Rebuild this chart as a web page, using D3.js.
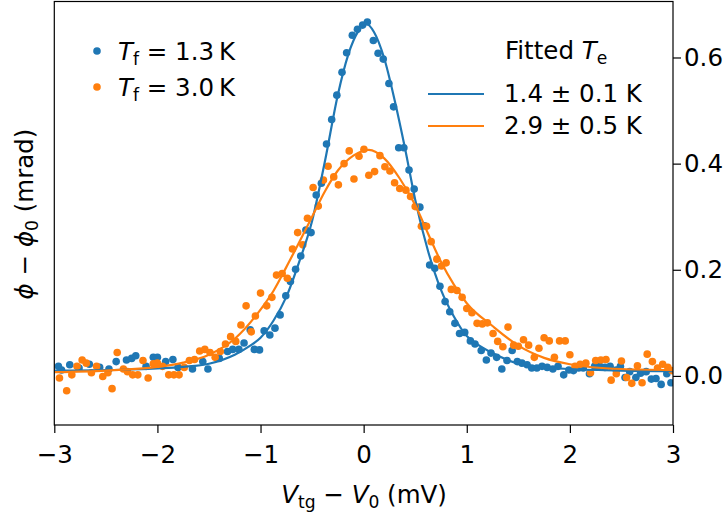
<!DOCTYPE html>
<html><head><meta charset="utf-8">
<script src="https://cdn.jsdelivr.net/npm/d3@7"></script>
<style>
body{margin:0;background:#fff;}
svg{display:block;font-family:"DejaVu Sans",sans-serif;}
</style></head>
<body><svg id="c" width="727" height="514"></svg>
<script>
// ---- data ----
const blueX = [-2.96,-2.93,-2.85,-2.76,-2.66,-2.56,-2.47,-2.40,-2.30,-2.25,-2.21,-2.11,-2.04,-2.00,-1.92,-1.85,-1.80,-1.66,-1.56,-1.51,-1.40,-1.32,-1.27,-1.21,-1.16,-1.10,-1.06,-1.01,-0.965,-0.91,-0.86,-0.81,-0.755,-0.71,-0.66,-0.61,-0.56,-0.51,-0.46,-0.41,-0.36,-0.31,-0.26,-0.21,-0.165,-0.11,-0.06,-0.01,0.036,0.094,0.14,0.19,0.245,0.29,0.34,0.39,0.44,0.49,0.545,0.59,0.64,0.69,0.74,0.79,0.835,0.885,0.93,0.98,1.035,1.08,1.14,1.19,1.235,1.29,1.34,1.39,1.44,1.49,1.535,1.585,1.63,1.68,1.73,1.78,1.835,1.885,1.94,1.99,2.035,2.085,2.13,2.19,2.24,2.29,2.34,2.39,2.45,2.49,2.535,2.58,2.64,2.685,2.74,2.79,2.835,2.885,2.94,2.98];
const blueY = [0.018,0.011,0.021,0.015,0.022,0.016,0.013,0.027,0.030,0.033,0.038,0.018,0.035,0.035,0.027,0.031,0.016,0.013,0.027,0.013,0.033,0.046,0.050,0.050,0.062,0.087,0.050,0.049,0.085,0.077,0.090,0.115,0.151,0.178,0.201,0.226,0.275,0.270,0.341,0.363,0.437,0.483,0.529,0.572,0.609,0.642,0.653,0.661,0.667,0.632,0.608,0.597,0.551,0.507,0.430,0.430,0.388,0.352,0.318,0.283,0.209,0.203,0.169,0.140,0.121,0.099,0.080,0.082,0.066,0.060,0.048,0.030,0.043,0.035,0.013,0.029,0.048,0.027,0.024,0.021,0.015,0.015,0.018,0.016,0.013,0.018,0.002,0.011,0.010,0.015,0.015,0.004,0.018,0.018,0.016,0.018,0.011,0.018,-0.003,0.008,-0.003,0.005,0.008,-0.006,-0.005,-0.016,0.004,-0.013];
const orangeX = [-2.95,-2.88,-2.83,-2.78,-2.73,-2.69,-2.64,-2.59,-2.53,-2.48,-2.44,-2.39,-2.33,-2.29,-2.24,-2.19,-2.14,-2.09,-2.04,-2.00,-1.95,-1.89,-1.84,-1.79,-1.74,-1.69,-1.64,-1.59,-1.54,-1.49,-1.44,-1.39,-1.34,-1.29,-1.24,-1.19,-1.14,-1.09,-1.05,-1.00,-0.94,-0.89,-0.845,-0.79,-0.74,-0.69,-0.64,-0.59,-0.545,-0.49,-0.44,-0.39,-0.345,-0.29,-0.245,-0.19,-0.14,-0.094,-0.045,0.003,0.05,0.106,0.158,0.206,0.255,0.30,0.35,0.41,0.455,0.50,0.56,0.61,0.655,0.71,0.755,0.80,0.85,0.905,0.955,1.00,1.05,1.10,1.15,1.20,1.255,1.30,1.35,1.40,1.455,1.50,1.55,1.60,1.655,1.70,1.75,1.80,1.85,1.90,1.955,2.00,2.05,2.10,2.155,2.20,2.25,2.30,2.35,2.40,2.45,2.50,2.55,2.60,2.655,2.70,2.75,2.80,2.85,2.90,2.95,2.99];
const orangeY = [-0.004,-0.028,0.002,0.018,0.030,0.024,0.006,0.018,-0.001,0.006,-0.024,0.044,0.013,0.008,0.002,0.002,0.029,-0.004,0.023,0.024,0.018,0.002,0.002,0.002,0.016,0.029,0.031,0.047,0.050,0.044,0.035,0.046,0.060,0.074,0.065,0.096,0.132,0.083,0.113,0.156,0.132,0.148,0.190,0.193,0.184,0.239,0.270,0.247,0.297,0.355,0.320,0.369,0.395,0.375,0.360,0.400,0.424,0.371,0.414,0.427,0.378,0.385,0.415,0.394,0.386,0.364,0.353,0.350,0.338,0.319,0.282,0.282,0.253,0.220,0.207,0.213,0.163,0.161,0.148,0.127,0.119,0.099,0.098,0.100,0.080,0.065,0.055,0.092,0.058,0.056,0.068,0.058,0.035,0.052,0.072,0.066,0.035,0.066,0.066,0.040,0.018,0.022,0.024,0.006,0.029,0.030,0.031,-0.008,0.004,0.028,-0.003,-0.014,0.019,-0.013,0.041,0.027,0.015,0.022,0.016,0.010];
const blueFitX = [-3,-2.5,-2,-1.75,-1.5,-1.25,-1.1,-1.0,-0.875,-0.75,-0.625,-0.5,-0.375,-0.25,-0.15,-0.05,0.02,0.1,0.2,0.3,0.4,0.5,0.625,0.75,0.875,1.0,1.1,1.25,1.5,1.75,2,2.5,3];
const blueFitY = [0.010,0.011,0.014,0.017,0.023,0.040,0.057,0.072,0.104,0.149,0.215,0.292,0.405,0.530,0.605,0.650,0.664,0.648,0.598,0.520,0.430,0.332,0.235,0.162,0.112,0.075,0.060,0.043,0.023,0.016,0.013,0.010,0.009];
const orangeFitX = [-3,-2.5,-2,-1.75,-1.5,-1.25,-1.0,-0.875,-0.75,-0.625,-0.5,-0.375,-0.25,-0.1,0.05,0.2,0.35,0.5,0.625,0.75,0.875,1.0,1.25,1.5,1.75,2,2.5,3];
const orangeFitY = [0.007,0.010,0.017,0.025,0.040,0.070,0.125,0.160,0.205,0.252,0.300,0.348,0.387,0.415,0.426,0.410,0.372,0.322,0.268,0.215,0.172,0.137,0.094,0.057,0.034,0.022,0.013,0.011];
const xTicks = [-3,-2,-1,0,1,2,3];
const yTicks = [0.0,0.2,0.4,0.6];
const scatterLabels = [["f","1.3"],["f","3.0"]];
const fitLabels = ["1.4 ± 0.1 K","2.9 ± 0.5 K"];
const colors = ["#1f77b4","#ff7f0e"];

// ---- drawing ----
const svg = d3.select("#c");
const L=54.3, R=673, T=1.5, B=425;
const x = d3.scaleLinear().domain([-3,3]).range([L,R]);
const y = d3.scaleLinear().domain([-0.0925,0.7055]).range([B,T]);
const FS = 24.5;

const plot = svg.append("g");
const clip = svg.append("clipPath").attr("id","cp").append("rect")
  .attr("x",L).attr("y",T).attr("width",R-L).attr("height",B-T);

function dots(X,Y,c){
  plot.append("g").attr("clip-path","url(#cp)").selectAll("circle").data(X.map((v,i)=>[v,Y[i]]))
    .join("circle").attr("cx",d=>x(d[0])).attr("cy",d=>y(d[1])).attr("r",3.8).attr("fill",c);
}
dots(blueX,blueY,colors[0]);
dots(orangeX,orangeY,colors[1]);
const line = d3.line().x(d=>x(d[0])).y(d=>y(d[1])).curve(d3.curveMonotoneX);
function fit(X,Y,c){
  plot.append("path").attr("clip-path","url(#cp)").attr("d",line(X.map((v,i)=>[v,Y[i]])))
    .attr("fill","none").attr("stroke",c).attr("stroke-width",2.2);
}
fit(blueFitX,blueFitY,colors[0]);
fit(orangeFitX,orangeFitY,colors[1]);

// frame
svg.append("rect").attr("x",L).attr("y",T).attr("width",R-L).attr("height",B-T)
  .attr("fill","none").attr("stroke","#000").attr("stroke-width",1.2);

// axes
const xa = svg.append("g").attr("transform",`translate(0,${B})`)
  .call(d3.axisBottom(x).tickValues(xTicks).tickSize(8).tickPadding(13).tickFormat(d3.format("d")));
const ya = svg.append("g").attr("transform",`translate(${R},0)`)
  .call(d3.axisRight(y).tickValues(yTicks).tickSize(8).tickPadding(3).tickFormat(d3.format(".1f")));
[xa,ya].forEach(a=>{
  a.select(".domain").remove();
  a.selectAll("line").attr("stroke","#000").attr("stroke-width",1.2);
  a.selectAll("text").attr("font-size",FS).attr("fill","#000").attr("font-family","DejaVu Sans");
});

// axis titles
const xt = svg.append("text").attr("x",364).attr("y",503).attr("text-anchor","middle").attr("font-size",FS);
xt.append("tspan").attr("font-style","italic").text("V");
xt.append("tspan").attr("font-size",FS*0.7).attr("dy",5).text("tg");
xt.append("tspan").attr("dy",-5).text(" − ");
xt.append("tspan").attr("font-style","italic").text("V");
xt.append("tspan").attr("font-size",FS*0.7).attr("dy",5).text("0");
xt.append("tspan").attr("dy",-5).text(" (mV)");

const yt = svg.append("text").attr("transform","translate(33,214) rotate(-90)").attr("text-anchor","middle").attr("font-size",FS);
yt.append("tspan").attr("font-style","italic").text("ϕ");
yt.append("tspan").text(" − ");
yt.append("tspan").attr("font-style","italic").text("ϕ");
yt.append("tspan").attr("font-size",FS*0.7).attr("dy",5).text("0");
yt.append("tspan").attr("dy",-5).text(" (mrad)");

// legend 1 (data)
scatterLabels.forEach((lab,i)=>{
  const cy = 51 + i*36;
  svg.append("circle").attr("cx",97).attr("cy",cy).attr("r",3.8).attr("fill",colors[i]);
  const t = svg.append("text").attr("x",118).attr("y",cy+9).attr("font-size",FS);
  t.append("tspan").attr("font-style","italic").text("T");
  t.append("tspan").attr("font-size",FS*0.7).attr("dy",5).text(lab[0]);
  t.append("tspan").attr("dy",-5).text(" = " + lab[1] + "\u2009K");
});

// legend 2 (fits)
const ft = svg.append("text").attr("x",505).attr("y",59).attr("font-size",FS);
ft.append("tspan").text("Fitted ");
ft.append("tspan").attr("font-style","italic").text("T");
ft.append("tspan").attr("font-size",FS*0.7).attr("dy",5).text("e");
fitLabels.forEach((lab,i)=>{
  const cy = 94 + i*32;
  svg.append("line").attr("x1",428).attr("x2",484).attr("y1",cy).attr("y2",cy)
    .attr("stroke",colors[i]).attr("stroke-width",2.2);
  svg.append("text").attr("x",504).attr("y",cy+8).attr("font-size",FS).text(lab);
});
</script></body></html>
